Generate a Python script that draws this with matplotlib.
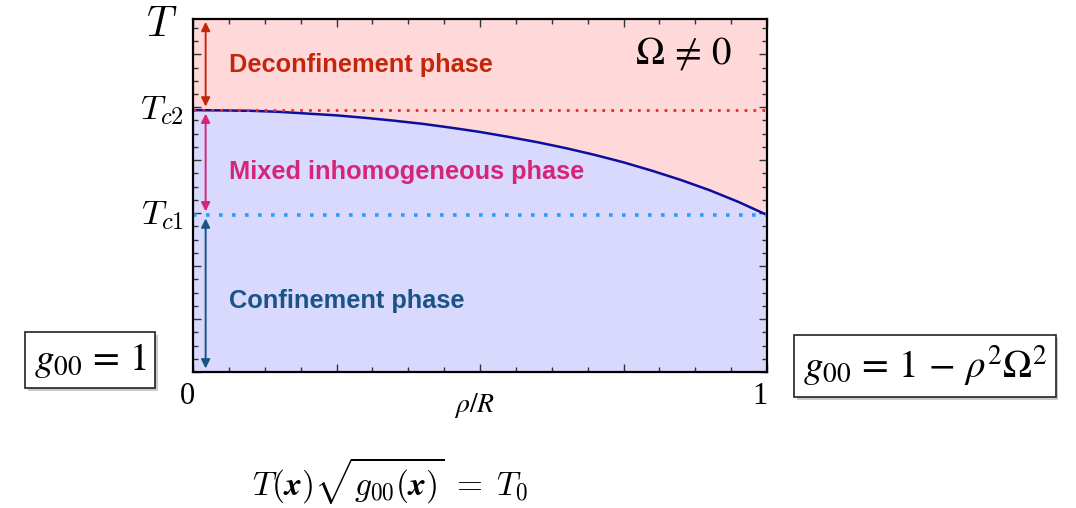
import matplotlib
matplotlib.use("Agg")
from matplotlib import pyplot as plt
from matplotlib import patheffects
from matplotlib.ticker import MultipleLocator
from matplotlib.patches import FancyArrowPatch

rho = [0.0, 0.05, 0.1, 0.15, 0.2, 0.25, 0.3, 0.35, 0.4, 0.45, 0.5,
       0.55, 0.6, 0.65, 0.7, 0.75, 0.8, 0.85, 0.9, 0.95, 1.0]
t_boundary = [0.742, 0.741, 0.740, 0.737, 0.732, 0.727, 0.720, 0.712, 0.703, 0.692, 0.680,
              0.666, 0.651, 0.634, 0.615, 0.594, 0.570, 0.544, 0.515, 0.482, 0.445]
tc2 = 0.742
tc1 = 0.445
t_top = 1.0

phase_names = ['Deconfinement phase', 'Mixed inhomogeneous phase', 'Confinement phase']
phase_colors = ['#c4260c', '#d42578', '#1a5487']

fig = plt.figure(figsize=(10.76, 5.08), dpi=100)
ax = fig.add_axes([193 / 1076, 136 / 508, 574 / 1076, 353 / 508])

# Fills: pink above the curve, lavender below it
ax.fill_between(rho, t_boundary, t_top, color='#ffd9da', lw=0)
ax.fill_between(rho, 0, t_boundary, color='#d9d9fd', lw=0)
ax.plot(rho, t_boundary, color='#0d0d9e', lw=1.8, solid_capstyle='butt')

# Critical temperature lines
ax.axhline(tc2, color='#ee2b2b', lw=2.0, ls=(0, (1, 2.2)))
ax.axhline(tc1, color='#2a9dff', lw=2.6, ls=(0, (1, 2.6)))

ax.set_xlim(0, 1)
ax.set_ylim(0, t_top)

# Double-headed arrows marking each phase
arrow_x = 0.022
spans = [(t_top - 0.008, tc2 + 0.01), (tc2 - 0.01, tc1 + 0.01), (tc1 - 0.01, 0.01)]
for (y0, y1), c in zip(spans, phase_colors):
    ax.add_patch(FancyArrowPatch((arrow_x, y0), (arrow_x, y1), arrowstyle='<|-|>',
                                 mutation_scale=13, color=c, lw=1.4, shrinkA=0, shrinkB=0))

label_y = [0.871, 0.567, 0.202]
for name, c, y in zip(phase_names, phase_colors, label_y):
    ax.text(0.063, y, name, color=c, fontsize=18.3, fontweight='bold',
            family='Liberation Sans', va='center', ha='left')

ax.text(0.855, 0.905, r'$\Omega \,\neq\, 0$', fontsize=28, ha='center', va='center',
        math_fontfamily='stix')

# Ticks: inward on all sides, no default labels
ax.xaxis.set_major_locator(MultipleLocator(0.25))
ax.xaxis.set_minor_locator(MultipleLocator(0.0625))
ax.yaxis.set_major_locator(MultipleLocator(0.15))
ax.yaxis.set_minor_locator(MultipleLocator(0.0375))
ax.tick_params(which='both', direction='in', top=True, right=True,
               labelbottom=False, labelleft=False, color='#333333')
ax.tick_params(which='major', length=6, width=1.0)
ax.tick_params(which='minor', length=3.5, width=1.0)
for s in ax.spines.values():
    s.set_linewidth(1.6)
    s.set_color('black')

# Axis annotations
ax.text(-0.054, 0.986, r'$T$', fontsize=30, ha='center', va='center',
        transform=ax.transAxes, math_fontfamily='cm')
ax.text(-0.054, tc2, r'$T_{c2}$', fontsize=25, ha='center', va='center',
        math_fontfamily='cm')
ax.text(-0.054, tc1, r'$T_{c1}$', fontsize=25, ha='center', va='center',
        math_fontfamily='cm')
ax.text(-0.01, -0.068, '0', fontsize=22, ha='center', va='center',
        family='Liberation Serif')
ax.text(0.988, -0.068, '1', fontsize=22, ha='center', va='center',
        family='Liberation Serif')
ax.text(0.49, -0.095, r'$\rho/R$', fontsize=20, ha='center', va='center',
        math_fontfamily='stix')

# Metric boxes with a soft shadow
box = dict(boxstyle='square,pad=0.22', fc='white', ec='#222222', lw=1.2)
shadow = [patheffects.withSimplePatchShadow(offset=(2, -2), shadow_rgbFace='#999999', alpha=0.5)]
b1 = fig.text(90 / 1076, 1 - 360 / 508, r'$g_{00} \,=\, 1$', fontsize=28, ha='center',
              va='center', math_fontfamily='stix', bbox=box)
b2 = fig.text(925 / 1076, 1 - 366 / 508, r'$g_{00} \,=\, 1 \,-\, \rho^2\Omega^2$', fontsize=28,
              ha='center', va='center', math_fontfamily='stix', bbox=box)
for t in (b1, b2):
    t.get_bbox_patch().set_path_effects(shadow)

fig.text(390 / 1076, 1 - 480 / 508,
         r'$T(\boldsymbol{x})\sqrt{g_{00}(\boldsymbol{x})} \;=\; T_0$',
         fontsize=24, ha='center', va='center', math_fontfamily='cm')

plt.savefig('out.png', dpi=100)
